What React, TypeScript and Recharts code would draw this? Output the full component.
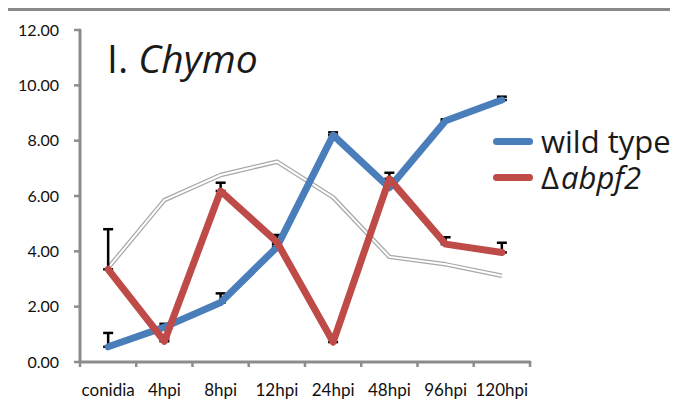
import React from 'react';
import { LineChart, Line, XAxis, YAxis, ErrorBar, Legend } from 'recharts';

const categories = ['conidia', '4hpi', '8hpi', '12hpi', '24hpi', '48hpi', '96hpi', '120hpi'];
const wildType = [0.55, 1.26, 2.15, 4.15, 8.2, 6.3, 8.72, 9.47];
const wildTypeErr = [0.5, 0.12, 0.33, 0.1, 0.1, 0.1, 0.05, 0.12];
const abpf2 = [3.35, 0.75, 6.18, 4.34, 0.72, 6.62, 4.26, 3.96];
const abpf2Err = [1.45, 0.1, 0.3, 0.25, 0.26, 0.22, 0.25, 0.35];
const grayTrend = [3.4, 5.85, 6.76, 7.24, 5.95, 3.8, 3.53, 3.12];
const yTicks = [0, 2, 4, 6, 8, 10, 12];

const data = categories.map((c, i) => ({
  cat: c,
  wt: wildType[i],
  wtErr: [0, wildTypeErr[i]],
  mut: abpf2[i],
  mutErr: [0, abpf2Err[i]],
  gray: grayTrend[i],
}));

const AXIS = '#8c8c8c';
const BLUE = '#4a7ebb';
const RED = '#be4b48';
const TICK_FONT = 'Lato, "Open Sans", sans-serif';
const BIG_FONT = '"Open Sans", Lato, sans-serif';
const HALF_STEP = 28.15;

const XTick = (props: any) => {
  const { x, y, payload, index } = props;
  const axisY = y - 22;
  return (
    <g>
      <line x1={x - HALF_STEP} x2={x - HALF_STEP} y1={axisY} y2={axisY + 5} stroke={AXIS} strokeWidth={2.5} />
      {index === categories.length - 1 && (
        <line x1={x + HALF_STEP} x2={x + HALF_STEP} y1={axisY} y2={axisY + 5} stroke={AXIS} strokeWidth={2.5} />
      )}
      <text x={x} y={y} dy="0.71em" textAnchor="middle" fontSize={17} fontFamily={TICK_FONT} fill="#111">
        {payload.value}
      </text>
    </g>
  );
};

const LegendContent = () => {
  const rows = [
    { color: BLUE, label: <span>wild type</span> },
    { color: RED, label: <span>Δ<i style={{ marginLeft: 2 }}>abpf2</i></span> },
  ];
  return (
    <div>
      {rows.map((r, i) => (
        <div key={i} style={{ display: 'flex', alignItems: 'center', height: 36 }}>
          <div style={{ width: 40, height: 7, borderRadius: 4, background: r.color, marginRight: 8 }} />
          <div style={{ fontSize: 31, fontFamily: BIG_FONT, color: '#1a1a1a', lineHeight: '36px', whiteSpace: 'nowrap' }}>
            {r.label}
          </div>
        </div>
      ))}
    </div>
  );
};

export default function App() {
  return (
    <div style={{ position: 'relative', width: 670, height: 404 }}>
      <div
        style={{
          position: 'absolute',
          left: -2,
          top: 0,
          width: 672,
          height: 404,
          borderLeft: '2.5px solid #a0a0a0',
          borderTop: '3px solid #8a8a8a',
          boxSizing: 'border-box',
        }}
      />
      <div
        style={{
          position: 'absolute',
          left: 99,
          top: 28,
          fontSize: 39,
          lineHeight: '44px',
          fontFamily: BIG_FONT,
          color: '#1a1a1a',
          whiteSpace: 'nowrap',
          zIndex: 2,
        }}
      >
        I. <i>Chymo</i>
      </div>
      <LineChart width={670} height={404} data={data} margin={{ top: 22, right: 148, bottom: 0, left: 0 }}>
        <XAxis
          dataKey="cat"
          height={50}
          padding={{ left: HALF_STEP, right: HALF_STEP }}
          axisLine={{ stroke: AXIS, strokeWidth: 3, strokeLinecap: 'round' }}
          tickLine={false}
          tickSize={22}
          tickMargin={0}
          tick={<XTick />}
          interval={0}
        />
        <YAxis
          width={72}
          domain={[0, 12]}
          ticks={yTicks}
          interval={0}
          tickFormatter={(v: number) => v.toFixed(2)}
          axisLine={{ stroke: AXIS, strokeWidth: 3, strokeLinecap: 'round' }}
          tickLine={{ stroke: AXIS, strokeWidth: 2.5 }}
          tickSize={6}
          tickMargin={15}
          tick={{ fontSize: 16, fontFamily: TICK_FONT, fill: '#111' }}
        />
        <Legend
          layout="vertical"
          align="center"
          verticalAlign="middle"
          content={<LegendContent />}
          wrapperStyle={{ left: 485, top: 115, width: 190 }}
        />
        <Line dataKey="gray" stroke="#a8a8a8" strokeWidth={4.5} dot={false} isAnimationActive={false} legendType="none" strokeLinejoin="round" />
        <Line dataKey="gray" stroke="#ffffff" strokeWidth={2} dot={false} isAnimationActive={false} legendType="none" strokeLinejoin="round" />
        <Line dataKey="wt" stroke="none" dot={false} isAnimationActive={false} legendType="none">
          <ErrorBar dataKey="wtErr" direction="y" width={5} stroke="#000" strokeWidth={2.5} />
        </Line>
        <Line dataKey="mut" stroke="none" dot={false} isAnimationActive={false} legendType="none">
          <ErrorBar dataKey="mutErr" direction="y" width={5} stroke="#000" strokeWidth={2.5} />
        </Line>
        <Line dataKey="wt" name="wild type" stroke={BLUE} strokeWidth={7} dot={false} isAnimationActive={false} strokeLinecap="round" strokeLinejoin="round" />
        <Line dataKey="mut" name="abpf2" stroke={RED} strokeWidth={7} dot={false} isAnimationActive={false} strokeLinecap="round" strokeLinejoin="round" />
      </LineChart>
    </div>
  );
}
